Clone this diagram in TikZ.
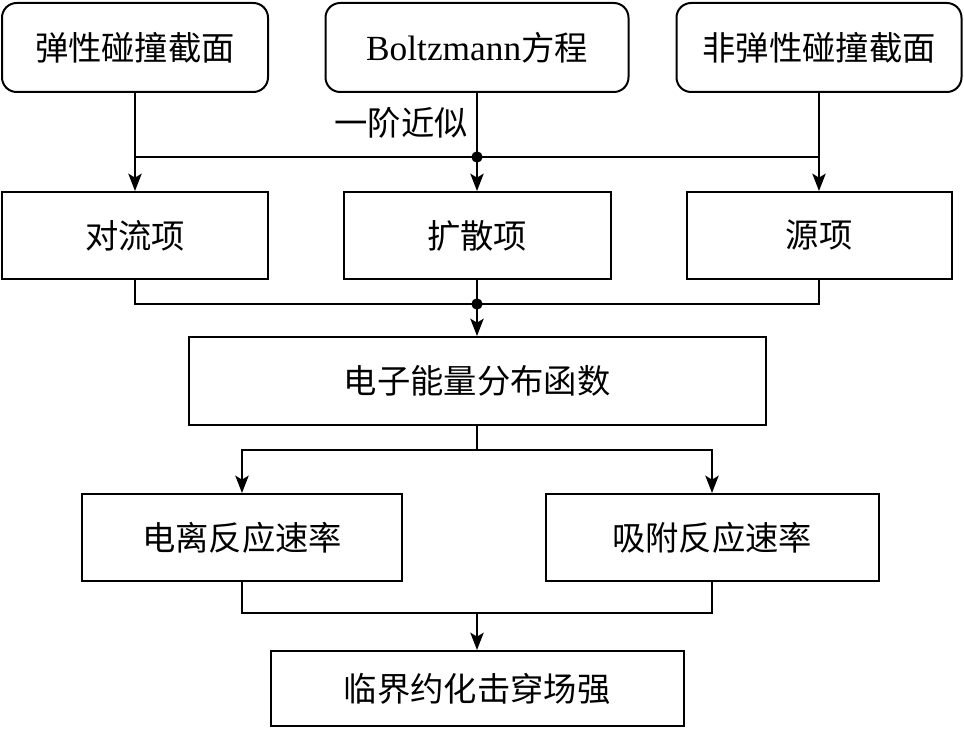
\documentclass[tikz,border=0pt]{standalone}
\usepackage{fontspec}
\setmainfont{Liberation Serif}
\newfontfamily\cjk{Noto Sans CJK SC}
\usetikzlibrary{arrows,arrows.meta,positioning}

\tikzset{
  topbox/.style={draw, rounded corners=11pt, line width=1.5pt, inner sep=0pt, minimum height=66.75pt},
  termbox/.style={draw, line width=1.5pt, inner sep=0pt, minimum height=65.25pt},
  link/.style={draw, line width=1.5pt},
  dot/.style={circle, fill, inner sep=0pt, minimum size=8.5pt}
}

\begin{document}
\begin{tikzpicture}[
  x=0.75pt, y=-0.75pt,
  >={Stealth[length=13pt,width=10pt,inset=3pt]},
  every node/.style={font=\fontsize{25}{30}\selectfont}
]
\useasboundingbox (0,0) rectangle (964,731);

% inputs
\node[topbox, minimum width=199.5pt] (elastic) at (135,47.5) {\cjk 弹性碰撞截面};
\node[topbox, minimum width=227.25pt] (boltz) at (477,47.5) {\fontsize{26.5}{30}\selectfont Boltzmann{\cjk\fontsize{25}{30}\selectfont 方程}};
\node[topbox, minimum width=213.75pt] (inelastic) at (819,47.5) {\cjk 非弹性碰撞截面};

% terms
\node[termbox, minimum width=199.5pt] (conv) at (135,235.5) {\cjk 对流项};
\node[termbox, minimum width=200.25pt] (diff) at (477,235.5) {\cjk 扩散项};
\node[termbox, minimum width=198.75pt] (src) at (819,235.5) {\cjk 源项};

\node[termbox, minimum width=432.75pt, minimum height=66pt] (eedf) at (477,381) {\cjk 电子能量分布函数};

\node[termbox, minimum width=240pt] (ion) at (242,537.5) {\cjk 电离反应速率};
\node[termbox, minimum width=249.75pt] (att) at (712,537.5) {\cjk 吸附反应速率};

\node[termbox, minimum width=309.75pt, minimum height=56.25pt] (ecrit) at (477,688.5) {\cjk 临界约化击穿场强};

\node (approx) at (401,123) {\cjk 一阶近似};

\coordinate (j1) at (477,157);
\coordinate (j2) at (477,304);
\coordinate (j3) at (477,450);
\coordinate (j4) at (477,613);

% first level
\draw[link, ->] (elastic) -- (conv);
\draw[link, ->] (boltz) -- (diff);
\draw[link, ->] (inelastic) -- (src);
\draw[link] (elastic.south |- j1) -- (inelastic.south |- j1);
\node[dot] at (j1) {};

% second level
\draw[link] (conv.south) |- (j2) -| (src.south);
\draw[link, ->] (diff) -- (eedf);
\node[dot] at (j2) {};

% rates
\draw[link] (eedf.south) -- (j3);
\draw[link, ->] (j3) -| (ion.north);
\draw[link, ->] (j3) -| (att.north);

\draw[link] (ion.south) |- (j4) -| (att.south);
\draw[link, ->] (j4) -- (ecrit);
\end{tikzpicture}
\end{document}
